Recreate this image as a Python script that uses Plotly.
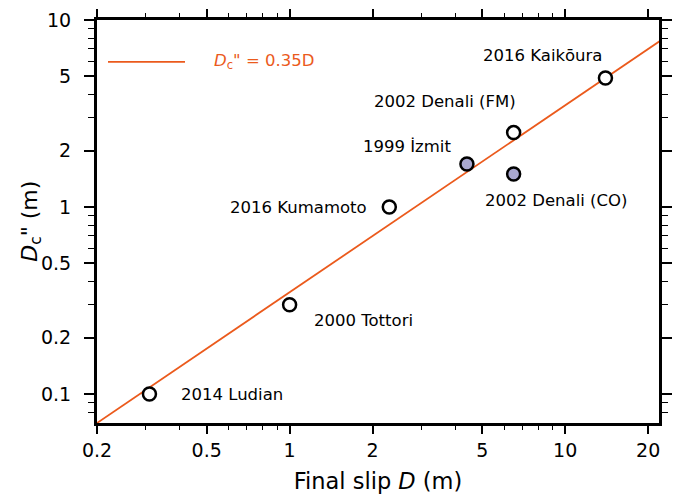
import numpy as np
import plotly.graph_objects as go

# Events: final slip D (m) and breakdown distance Dc'' (m)
events = ["2014 Ludian", "2000 Tottori", "2016 Kumamoto", "1999 İzmit",
          "2002 Denali (FM)", "2002 Denali (CO)", "2016 Kaikōura"]
slip_D = [0.31, 1.0, 2.3, 4.4, 6.5, 6.5, 14.0]
dc_pp = [0.1, 0.3, 1.0, 1.7, 2.5, 1.5, 4.9]
filled = [False, False, False, True, False, True, False]

# Label placement (offset in px from the point, anchor)
label_dx = [30, 22, -20, -14, -69, -31, -63]
label_dy = [0, 16, 0, -17, -31, 26, -22]
label_anchor = ["left", "left", "right", "right", "center", "left", "center"]

# Scaling relation Dc'' = 0.35 D
ratio = 0.35
fit_x = [0.2, 22.0]
fit_y = [ratio * v for v in fit_x]

x_ticks = [0.2, 0.5, 1, 2, 5, 10, 20]
x_minor = [0.3, 0.4, 0.6, 0.7, 0.8, 0.9, 3, 4, 6, 7, 8, 9]
y_ticks = [0.1, 0.2, 0.5, 1, 2, 5, 10]
y_minor = [0.08, 0.09, 0.3, 0.4, 0.6, 0.7, 0.8, 0.9, 3, 4, 6, 7, 8, 9]

ORANGE = "#EB5A1C"
LAVENDER = "#A9A8CF"
FONT = "DejaVu Sans, Liberation Sans, sans-serif"

fig = go.Figure()

fig.add_trace(go.Scatter(
    x=fit_x, y=fit_y, mode="lines",
    line=dict(color=ORANGE, width=1.8), showlegend=False, hoverinfo="skip"))

fig.add_trace(go.Scatter(
    x=slip_D, y=dc_pp, mode="markers",
    marker=dict(size=13, symbol="circle",
                color=[LAVENDER if f else "white" for f in filled],
                line=dict(color="black", width=2.5)),
    showlegend=False, cliponaxis=False))

for name, x, y, dx, dy, anc in zip(events, slip_D, dc_pp, label_dx, label_dy, label_anchor):
    fig.add_annotation(x=np.log10(x), y=np.log10(y), text=name, showarrow=False,
                       xanchor=anc, yanchor="middle", xshift=dx, yshift=-dy,
                       font=dict(family=FONT, size=16.5, color="black"))

# Legend sample line and label
fig.add_shape(type="line", xref="paper", yref="paper",
              x0=0.0196, x1=0.1566, y0=0.896, y1=0.896,
              line=dict(color=ORANGE, width=1.8))
fig.add_annotation(xref="paper", yref="paper", x=0.205, y=0.896,
                   text='<i>D</i><sub>c</sub>" = 0.35D', showarrow=False,
                   xanchor="left", yanchor="middle",
                   font=dict(family=FONT, size=16.5, color=ORANGE))

# Vertical axis title
fig.add_annotation(xref="paper", yref="paper", x=-0.117, y=0.5,
                   text='<i>D</i><sub>c</sub>" (m)', showarrow=False, textangle=-90,
                   xanchor="center", yanchor="middle",
                   font=dict(family=FONT, size=22, color="black"))

axis_common = dict(
    type="log", showgrid=False, zeroline=False, automargin=False,
    showline=True, linecolor="black", mirror="ticks",
    ticks="outside", tickcolor="black",
    tickfont=dict(family=FONT, size=19, color="black"),
)

fig.update_xaxes(
    **axis_common,
    linewidth=2.5, ticklen=8, tickwidth=1.5, ticklabelstandoff=0,
    range=[np.log10(0.2), np.log10(21.9)],
    tickmode="array", tickvals=x_ticks, ticktext=[str(v) for v in x_ticks],
    minor=dict(tickmode="array", tickvals=x_minor, ticks="outside",
               ticklen=4, tickwidth=1.3, tickcolor="black"),
    title=dict(text="Final slip <i>D</i> (m)", standoff=14,
               font=dict(family=FONT, size=22.5, color="black")),
)
fig.update_yaxes(
    **axis_common,
    linewidth=3, ticklen=10, tickwidth=1.5, ticklabelstandoff=9,
    range=[np.log10(0.07), 1.0],
    tickmode="array", tickvals=y_ticks, ticktext=[str(v) for v in y_ticks],
    minor=dict(tickmode="array", tickvals=y_minor, ticks="outside",
               ticklen=6, tickwidth=1.3, tickcolor="black"),
)

fig.update_layout(
    width=673, height=497,
    margin=dict(l=97, r=14, t=20, b=74, autoexpand=False),
    paper_bgcolor="white", plot_bgcolor="white",
)

fig.write_html("out.html")
